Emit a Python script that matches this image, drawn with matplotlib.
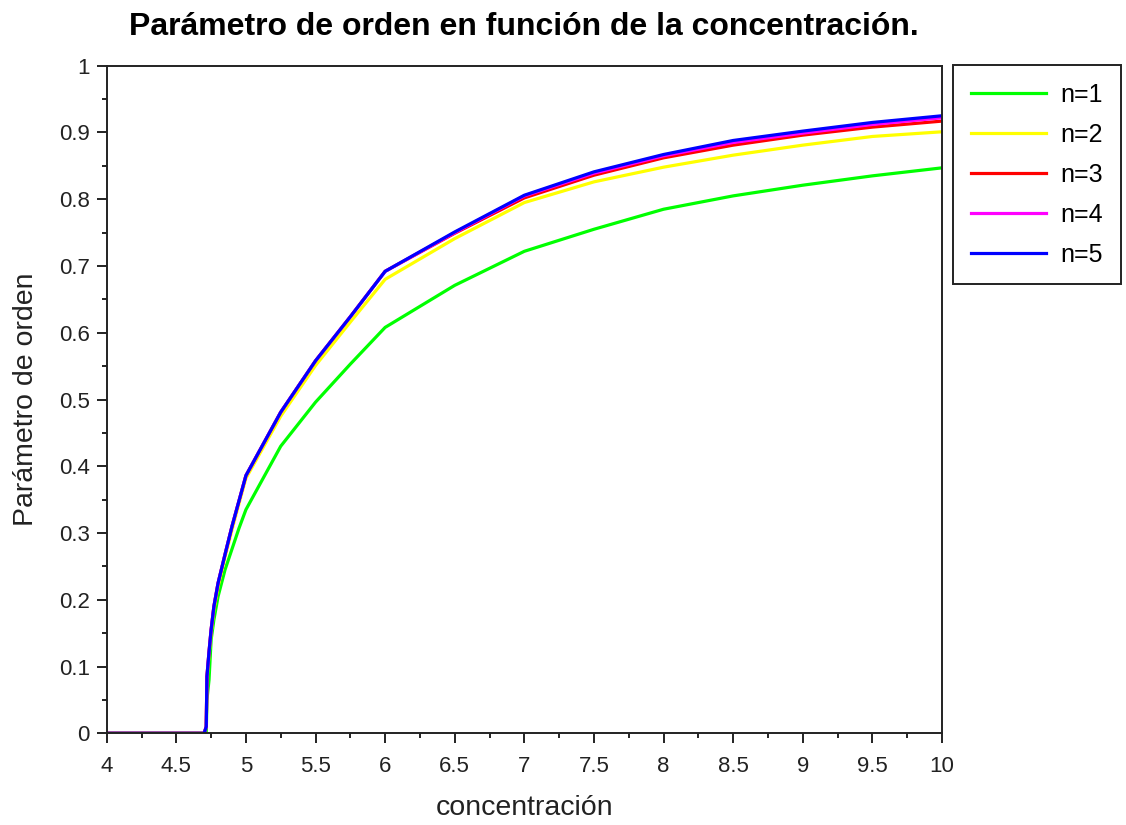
import matplotlib
matplotlib.use("Agg")
import matplotlib.pyplot as plt
from matplotlib.ticker import MultipleLocator

plt.rcParams['font.family'] = ['Liberation Sans', 'DejaVu Sans']

concentracion = [4.0, 4.5, 4.70, 4.715, 4.72, 4.735, 4.75, 4.77, 4.8, 4.85, 4.9, 4.95,
                 5.0, 5.25, 5.5, 5.75, 6.0, 6.5, 7.0, 7.5, 8.0, 8.5, 9.0, 9.5, 10.0]

s_n1 = [0, 0, 0, 0.0, 0.05, 0.08, 0.14, 0.17, 0.205, 0.245, 0.276, 0.307,
        0.335, 0.43, 0.496, 0.553, 0.608, 0.671, 0.722, 0.755, 0.785, 0.805, 0.821, 0.835, 0.847]
s_n2 = [0, 0, 0, 0.01, 0.08, 0.118, 0.15, 0.185, 0.22, 0.264, 0.305, 0.344,
        0.382, 0.475, 0.551, 0.616, 0.680, 0.741, 0.795, 0.826, 0.848, 0.866, 0.881, 0.894, 0.901]
s_n3 = [0, 0, 0, 0.01, 0.085, 0.122, 0.155, 0.19, 0.225, 0.268, 0.31, 0.348,
        0.386, 0.481, 0.558, 0.624, 0.692, 0.749, 0.802, 0.836, 0.862, 0.881, 0.896, 0.908, 0.917]
s_n4 = [0, 0, 0, 0.01, 0.085, 0.122, 0.155, 0.19, 0.225, 0.268, 0.31, 0.348,
        0.386, 0.481, 0.558, 0.624, 0.692, 0.750, 0.805, 0.839, 0.865, 0.885, 0.899, 0.912, 0.922]
s_n5 = [0, 0, 0, 0.01, 0.085, 0.122, 0.155, 0.19, 0.225, 0.268, 0.31, 0.348,
        0.386, 0.481, 0.558, 0.624, 0.692, 0.751, 0.806, 0.841, 0.867, 0.888, 0.902, 0.915, 0.925]

labels = ["n=1", "n=2", "n=3", "n=4", "n=5"]
series = [s_n1, s_n2, s_n3, s_n4, s_n5]
colors = ["#00ff00", "#ffff00", "#ff0000", "#ff00ff", "#0000ff"]

xticks = [4 + 0.5 * i for i in range(13)]
yticks = [round(0.1 * i, 1) for i in range(11)]

W, H = 1126, 825
fig = plt.figure(figsize=(W / 100, H / 100), dpi=100)
ax = fig.add_axes([106.7 / W, 1 - 733.3 / H, (942 - 106.7) / W, (733.3 - 65.7) / H])

for y, c, lab in zip(series, colors, labels):
    ax.plot(concentracion, y, color=c, lw=2.3, label=lab, solid_joinstyle='miter')

ax.set_xlim(4, 10)
ax.set_ylim(0, 1)
ax.set_xticks(xticks)
ax.set_xticklabels([f"{v:g}" for v in xticks])
ax.set_yticks(yticks)
ax.set_yticklabels([f"{v:g}" for v in yticks])
ax.xaxis.set_minor_locator(MultipleLocator(0.25))
ax.yaxis.set_minor_locator(MultipleLocator(0.05))

for sp in ax.spines.values():
    sp.set_linewidth(1.4)
    sp.set_color('#222222')
ax.tick_params(which='major', direction='out', length=7.2, width=1.4, color='#222222',
               labelsize=16, labelcolor='#222222')
ax.tick_params(axis='x', which='major', pad=9)
ax.tick_params(axis='y', which='major', pad=5)
ax.tick_params(which='minor', direction='out', length=3.6, width=1.4, color='#222222')

ax.set_xlabel("concentración", fontsize=20.5, labelpad=13, color='#222222')
ax.set_ylabel("Parámetro de orden", fontsize=20.5, labelpad=14, color='#222222')
ax.set_title("Parámetro de orden en función de la concentración.", fontsize=23,
             fontweight='bold', pad=22)

leg = ax.legend(loc='upper left', bbox_to_anchor=(953 / W, 1 - 65 / H),
                bbox_transform=fig.transFigure, borderaxespad=0, fancybox=False,
                edgecolor='#222222', framealpha=1, fontsize=18, handlelength=3.0,
                handletextpad=0.6, borderpad=0.7, labelspacing=0.64)
leg.get_frame().set_linewidth(1.4)

fig.savefig("out.png", dpi=100)
